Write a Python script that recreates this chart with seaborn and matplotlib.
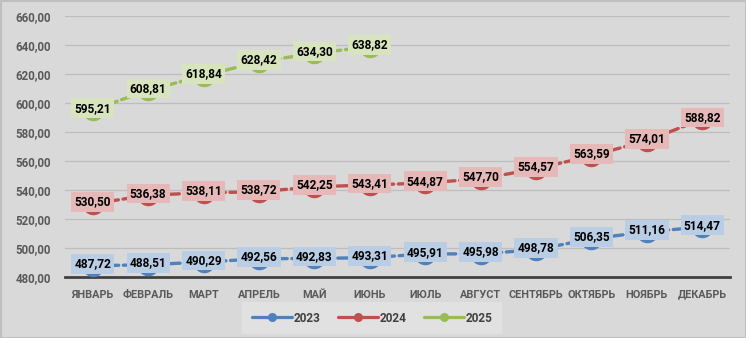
import numpy as np
import pandas as pd
import matplotlib
matplotlib.use("Agg")
import matplotlib.pyplot as plt
import seaborn as sns
from matplotlib.patches import Rectangle
from matplotlib.lines import Line2D

months = ["ЯНВАРЬ", "ФЕВРАЛЬ", "МАРТ", "АПРЕЛЬ", "МАЙ", "ИЮНЬ",
          "ИЮЛЬ", "АВГУСТ", "СЕНТЯБРЬ", "ОКТЯБРЬ", "НОЯБРЬ", "ДЕКАБРЬ"]
v2023 = [487.72, 488.51, 490.29, 492.56, 492.83, 493.31, 495.91, 495.98, 498.78, 506.35, 511.16, 514.47]
v2024 = [530.50, 536.38, 538.11, 538.72, 542.25, 543.41, 544.87, 547.70, 554.57, 563.59, 574.01, 588.82]
v2025 = [595.21, 608.81, 618.84, 628.42, 634.30, 638.82]
years = ["2023", "2024", "2025"]
yticks = [480, 500, 520, 540, 560, 580, 600, 620, 640, 660]

line_colors = {"2023": "#4f81bd", "2024": "#c0504d", "2025": "#9bbb59"}
box_colors = {"2023": "#b9cde5", "2024": "#e6b9b8", "2025": "#d7e4bd"}

rows = []
for yr, vals in zip(years, [v2023, v2024, v2025]):
    for i, v in enumerate(vals):
        rows.append({"idx": i, "month": months[i], "year": yr, "value": v})
df = pd.DataFrame(rows)

sns.set_theme(style="white")
plt.rcParams["font.family"] = ["Roboto", "DejaVu Sans"]

bg = "#d9d9d9"
fig = plt.figure(figsize=(7.46, 3.38), dpi=100, facecolor=bg)
ax = fig.add_axes([65/746, 1-277/338, (730-65)/746, (277-16)/338])
ax.set_facecolor(bg)

sns.lineplot(data=df, x="idx", y="value", hue="year", style="year",
             palette=line_colors, markers=["o", "o", "o"],
             dashes=[(3.2, 1.4)] * 3, linewidth=2.4,
             ax=ax, legend=False, zorder=3)
for ln in ax.get_lines():
    ln.set_dash_capstyle("round")
    ln.set_markersize(15.5)
    ln.set_markeredgewidth(0)

for yr in years:
    sub = df[df["year"] == yr]
    for _, r in sub.iterrows():
        ax.annotate(f"{r['value']:.2f}".replace(".", ","), (r["idx"], r["value"]),
                    xytext=(0, 1.3), textcoords="offset points",
                    ha="center", va="center", fontsize=8.6, fontweight="bold",
                    color="#000000", zorder=5,
                    bbox=dict(boxstyle="square,pad=0.27", fc=box_colors[yr], ec="none"))

ax.set_xlim(-0.5, 11.5)
ax.set_ylim(480, 660)
ax.set_yticks(yticks)
ax.set_yticklabels([f"{t:.2f}".replace(".", ",") for t in yticks])
ax.set_xticks(range(12))
ax.set_xticklabels(months)
ax.tick_params(axis="y", length=0, labelsize=8.3, labelcolor="#595959", pad=10)
ax.tick_params(axis="x", length=0, labelsize=7.8, labelcolor="#595959", pad=9)
for lab in ax.get_xticklabels() + ax.get_yticklabels():
    lab.set_fontweight("bold")
ax.set_xlabel("")
ax.set_ylabel("")
for t in yticks[1:]:
    ax.axhline(t, color="#bdbdbd", lw=0.9, zorder=1)
for s in ["top", "right", "left"]:
    ax.spines[s].set_visible(False)
ax.spines["bottom"].set_color("#404040")
ax.spines["bottom"].set_linewidth(2)

handles = [Line2D([0], [0], color=line_colors[y], lw=2.3, marker="o", markersize=5.5)
           for y in years]
leg = fig.legend(handles, years, loc="center", bbox_to_anchor=(372/746, 1-318/338),
                 ncol=3, frameon=True, fontsize=8.5, handlelength=3.4,
                 handletextpad=0.1, columnspacing=1.5, borderpad=0.5)
leg.get_frame().set_facecolor("#e4e4e4")
leg.get_frame().set_edgecolor("none")
leg.get_frame().set_boxstyle("square")
for t in leg.get_texts():
    t.set_fontweight("bold")
    t.set_color("#404040")

fig.patches.append(Rectangle((0.5/746, 0.5/338), 1-1/746, 1-1/338, transform=fig.transFigure,
                             fill=False, ec="#bfbfbf", lw=1.5))

fig.savefig("out.png", dpi=100, facecolor=bg)
